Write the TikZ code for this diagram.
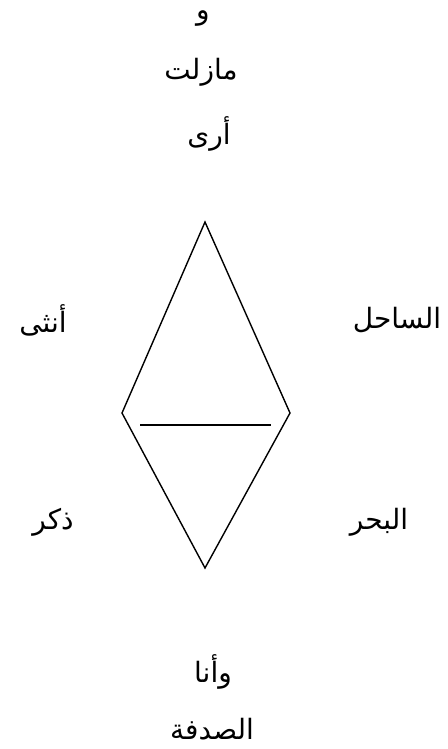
\documentclass[tikz,border=0pt]{standalone}
\usepackage{fontspec}
\newfontfamily\arabicfont[Script=Arabic]{DejaVu Sans}
\TeXXeTstate=1
\newcommand{\ar}[1]{\arabicfont\beginR #1\endR}

\begin{document}
\begin{tikzpicture}[
  x=1pt, y=-1pt,
  font=\fontsize{28}{32}\selectfont,
  word/.style={inner sep=0pt, anchor=center},
  edge/.style={draw=black, line width=1.4pt, line join=miter}
]
\useasboundingbox (0,0) rectangle (447,749);

% diamond corners
\coordinate (t) at (205,222);
\coordinate (l) at (122,413);
\coordinate (r) at (290,413);
\coordinate (b) at (205,568);
\coordinate (ml) at (140,425);
\coordinate (mr) at (271,425);

\draw[edge] (t) -- (r) -- (b) -- (l) -- cycle;
\draw[edge] (ml) -- (mr);

% words
\node[word] (w1) at (203,19) {\ar{و}};
\node[word] (w2) at (201,72) {\ar{مازلت}};
\node[word] (w3) at (209,134) {\ar{أرى}};
\node[word] (w4) at (43,320) {\ar{أنثى}};
\node[word] (w5) at (397,320) {\ar{الساحل}};
\node[word] (w6) at (53,522) {\ar{ذكر}};
\node[word] (w7) at (379,522) {\ar{البحر}};
\node[word] (w8) at (213,672) {\ar{وأنا}};
\node[word] (w9) at (212,729) {\ar{الصدفة}};
\end{tikzpicture}
\end{document}
